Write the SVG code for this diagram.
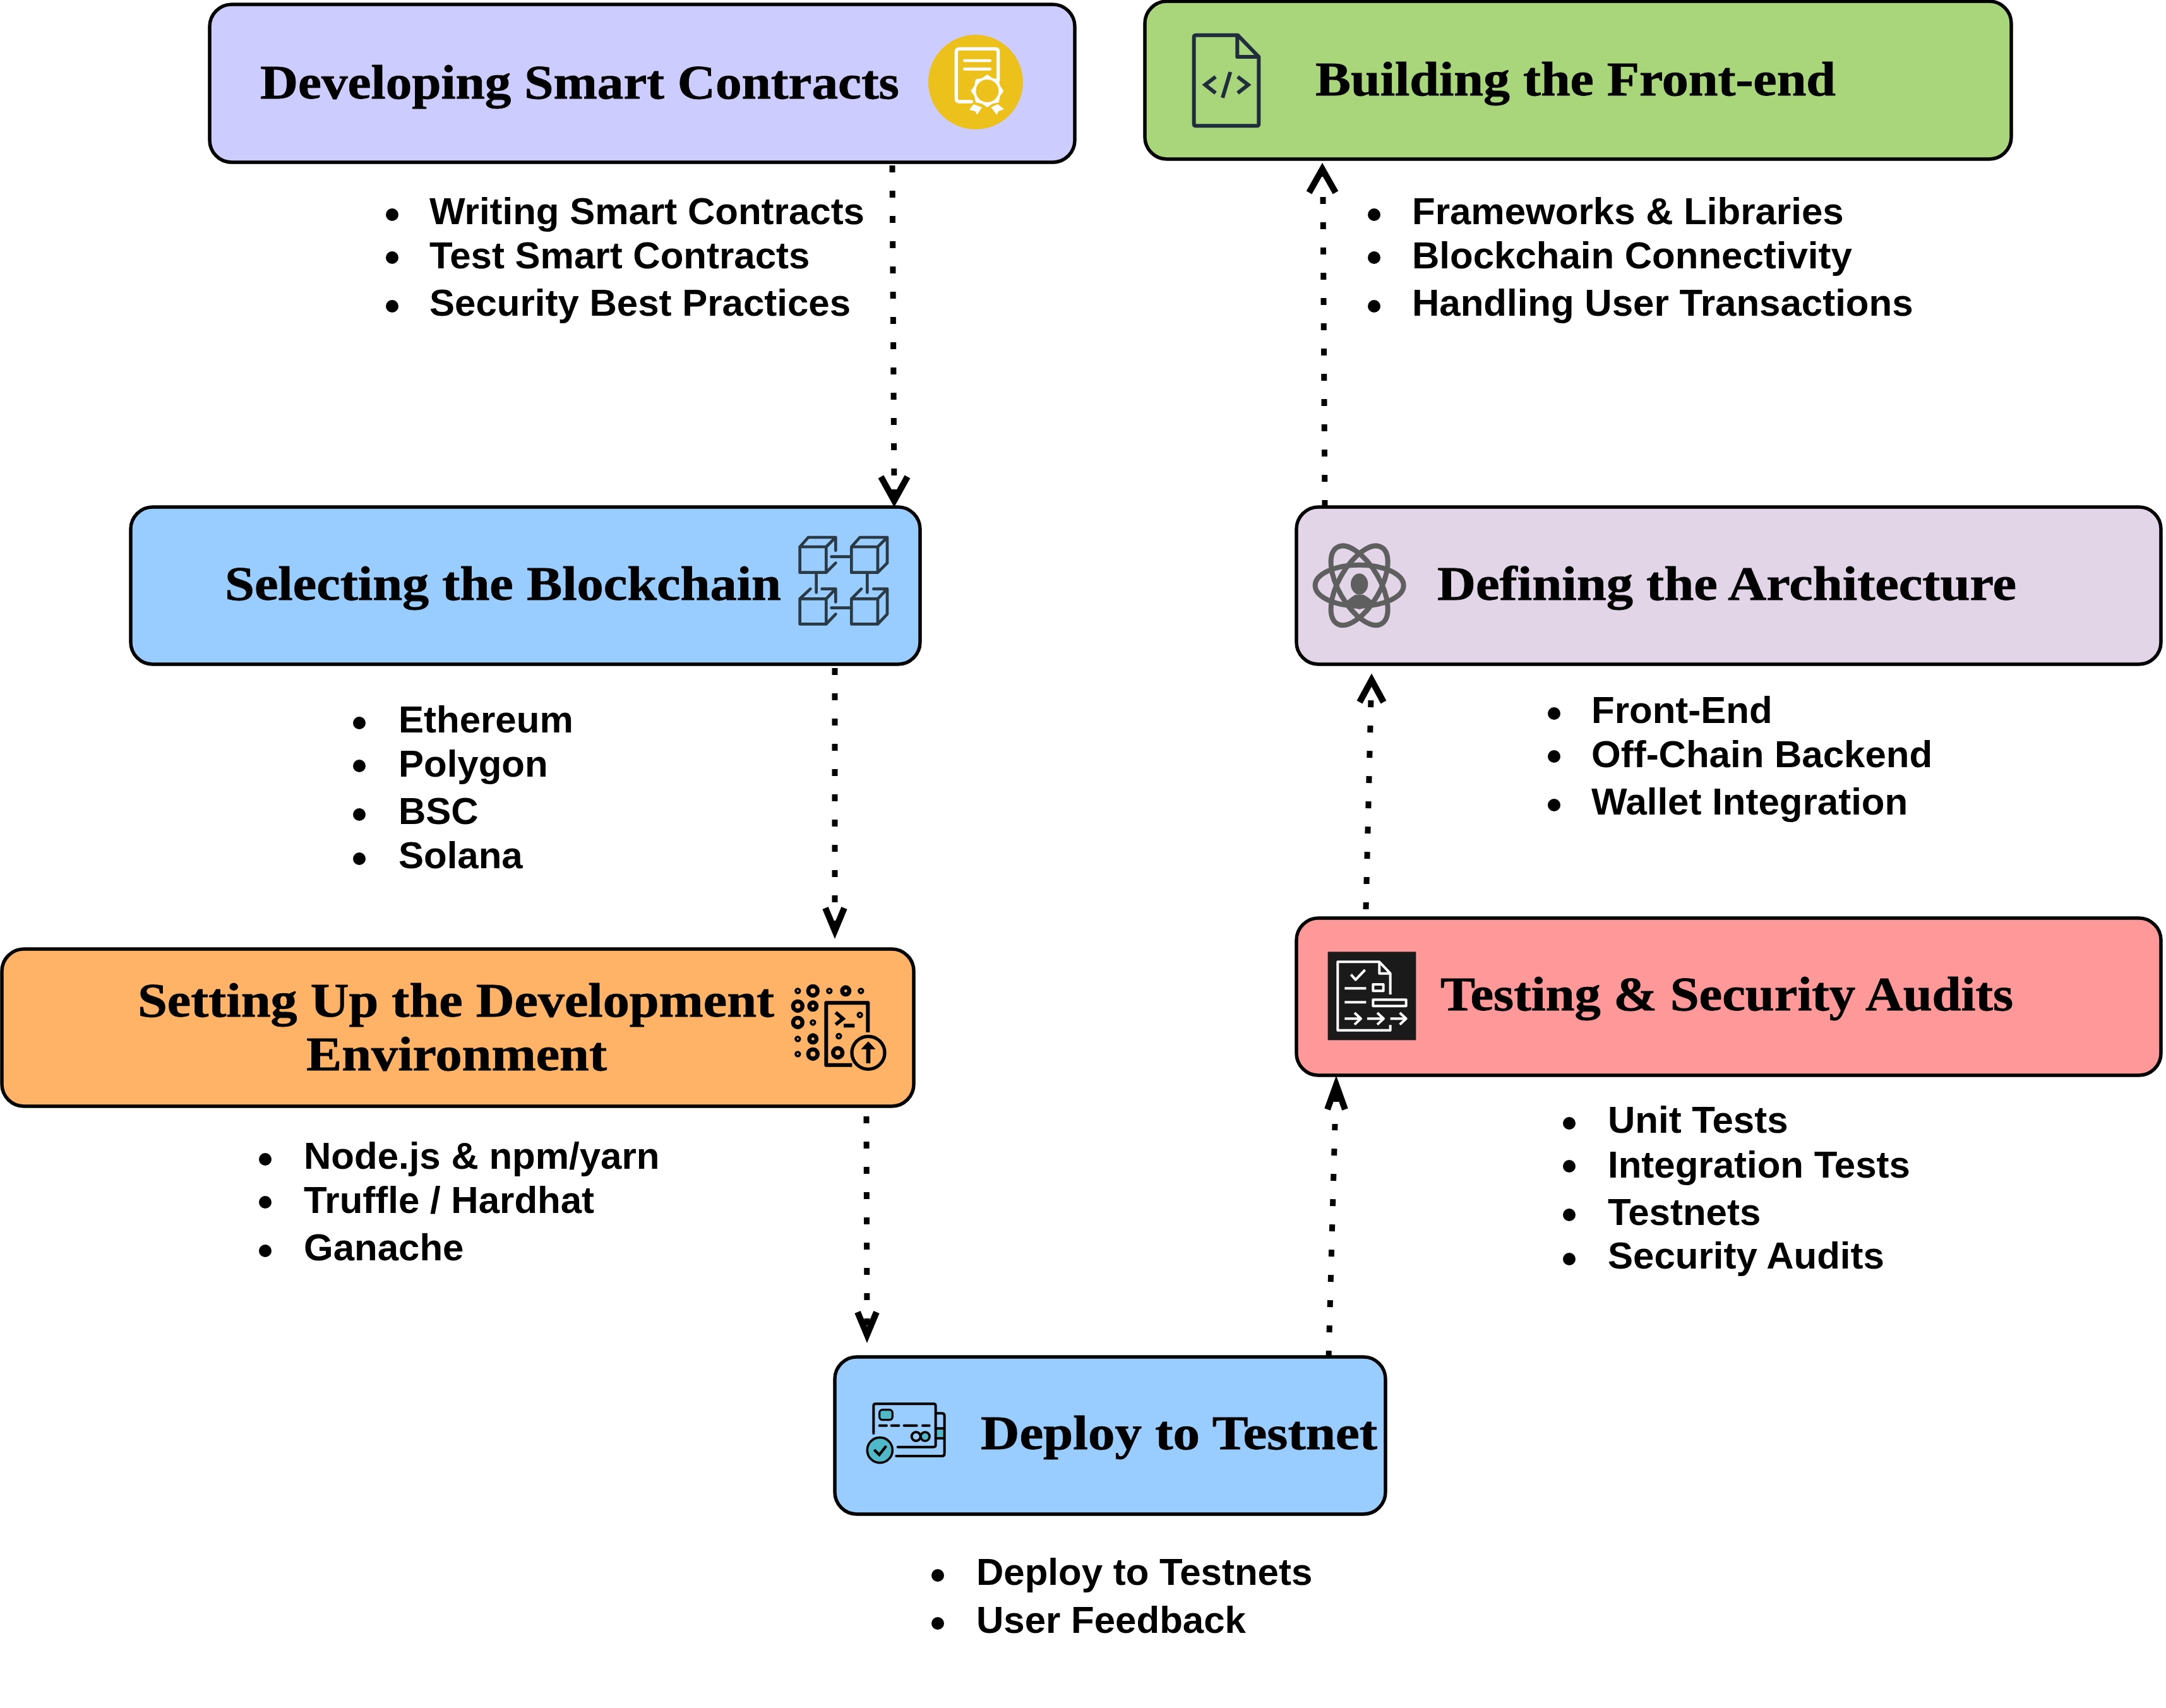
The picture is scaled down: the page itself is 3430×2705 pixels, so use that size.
<svg xmlns="http://www.w3.org/2000/svg" width="3430" height="2705" viewBox="0 0 3430 2705">
<style>
.box{stroke:#000;stroke-width:5.500}
.t{font-family:"Liberation Serif","DejaVu Serif",serif;font-weight:700;font-size:76px;fill:#000;stroke:#000;stroke-width:.8}
.l{font-family:"Liberation Sans",Arial,sans-serif;font-weight:700;font-size:60px;fill:#000}
.dash{fill:none;stroke:#000;stroke-width:9;stroke-dasharray:11 29}
.head{fill:none;stroke:#000;stroke-width:10;stroke-miterlimit:8}
.shaft{fill:none;stroke:#000;stroke-width:9}
.ic{fill:none;stroke-linecap:round;stroke-linejoin:round}
</style>
<rect width="3430" height="2705" fill="#fff"/>
<g id="connectors">
<path class="dash" d="M1413 262L1416 780"/><path class="shaft" d="M1416 775V795"/><path class="head" d="M1395 755L1416 793L1437 755"/>
<path class="dash" d="M1322 1058L1322 1465"/><path class="shaft" d="M1322 1463V1476"/><path class="head" d="M1307 1438L1322 1474L1337 1438"/>
<path class="dash" d="M1372 1768L1373 2105"/><path class="shaft" d="M1373 2103V2116"/><path class="head" d="M1358 2078L1373 2114L1388 2078"/>
<path class="dash" d="M2104 2150L2114 1780"/><path class="shaft" d="M2116 1720V1745"/><path class="head" d="M2102 1757L2116 1718L2130 1757"/>
<path class="dash" d="M2163 1440L2171 1107"/><path class="head" d="M2153 1112L2172 1077L2191 1112"/>
<path class="dash" d="M2098 803L2095 310"/><path class="shaft" d="M2094 270V280"/><path class="head" d="M2073 305L2094 268L2115 305"/>
</g>
<g id="node-contracts">
<rect class="box" x="332" y="7" width="1370" height="250" rx="35" fill="#CCCCFF"/>
<text class="t" x="412" y="156" textLength="1012" lengthAdjust="spacingAndGlyphs">Developing Smart Contracts</text>
<g transform="translate(1470 50) scale(.3333)">
<circle cx="225" cy="240" r="225" fill="#EDC11C"/>
<path class="ic" stroke="#fff" stroke-width="16" d="M332 230V95Q332 82 318 82H148Q133 82 133 97V318Q133 333 148 333H205"/>
<path class="ic" stroke="#fff" stroke-width="14" d="M172 138H293M172 178H293"/>
<path fill="#fff" d="M215 345L195 372L222 378L232 395L255 360ZM330 345L360 368L335 378L325 395L298 360Z"/>
<polygon fill="#fff" points="280,204 305,221 335,227 341,257 358,282 341,307 335,337 305,343 280,360 255,343 225,337 219,307 202,282 219,257 225,227 255,221"/>
<circle cx="280" cy="282" r="54" fill="#EDC11C"/>
</g>
</g>
<g id="node-frontend">
<rect class="box" x="1813" y="2" width="1372" height="250" rx="35" fill="#A9D67A"/>
<text class="t" x="2083" y="151" textLength="824" lengthAdjust="spacingAndGlyphs">Building the Front-end</text>
<g transform="translate(1870 40) scale(.3333)" stroke="#1F2D3D">
<path class="ic" stroke-width="18" d="M270 47H72Q62 47 62 57V468Q62 478 72 478H360Q370 478 370 468V150ZM268 47V150H370"/>
<path fill="none" stroke-width="18" d="M165 245L115 283L165 322M235 222L198 345M270 245L320 283L270 322"/>
</g>
</g>
<g id="node-blockchain">
<rect class="box" x="207" y="803" width="1250" height="249" rx="35" fill="#99CCFF"/>
<text class="t" x="356" y="950" textLength="881" lengthAdjust="spacingAndGlyphs">Selecting the Blockchain</text>
<g transform="translate(1220 780) scale(.3333)" class="ic" stroke="#2A3A44" stroke-width="14">
<path d="M140 258H265V380H140ZM140 258L180 213H310L265 258M310 213V275M310 335L265 380"/>
<path d="M385 258H510V380H385ZM385 258L425 213H555L510 258M555 213V335L510 380M290 305H385"/>
<path d="M218 385V475M460 385V475"/>
<path d="M140 505H265V625H140ZM140 505L190 458M245 458H310L265 505M310 458V520M310 578L265 625"/>
<path d="M385 505H510V625H385ZM385 505L432 458M490 458H555L510 505M555 458V578L510 625M290 548H385"/>
</g>
</g>
<g id="node-architecture">
<rect class="box" x="2053" y="803" width="1369" height="249" rx="35" fill="#E1D5E7"/>
<text class="t" x="2276" y="950" textLength="917" lengthAdjust="spacingAndGlyphs">Defining the Architecture</text>
<g transform="translate(2050 800) scale(.3333)">
<g fill="none" stroke="#5F5F5F" stroke-width="24">
<ellipse cx="308" cy="382" rx="210" ry="98"/>
<ellipse cx="308" cy="382" rx="210" ry="98" transform="rotate(60 308 382)"/>
<ellipse cx="308" cy="382" rx="210" ry="98" transform="rotate(-60 308 382)"/>
</g>
<ellipse cx="308" cy="375" rx="41" ry="50" fill="#5F5F5F"/>
<path fill="#5F5F5F" d="M240 462Q275 432 290 425H326Q345 432 378 462L360 480L308 495L255 480Z"/>
</g>
</g>
<g id="node-environment">
<rect class="box" x="3" y="1503" width="1444" height="249" rx="35" fill="#FFB366"/>
<text class="t" x="218" y="1610" textLength="1008" lengthAdjust="spacingAndGlyphs">Setting Up the Development</text>
<text class="t" x="485" y="1695" textLength="476" lengthAdjust="spacingAndGlyphs">Environment</text>
<g transform="translate(1230 1530) scale(.3333)">
<g fill="none" stroke="#000">
<g stroke-width="11"><circle cx="100" cy="118" r="10"/><circle cx="250" cy="118" r="10"/><circle cx="400" cy="118" r="10"/><circle cx="172" cy="268" r="10"/><circle cx="100" cy="346" r="10"/><circle cx="100" cy="418" r="10"/><circle cx="395" cy="232" r="10"/><circle cx="295" cy="333" r="10"/></g>
<g stroke-width="20"><circle cx="172" cy="118" r="22"/><circle cx="100" cy="190" r="22"/><circle cx="100" cy="268" r="22"/><circle cx="172" cy="418" r="22"/><circle cx="290" cy="412" r="22"/><circle cx="328" cy="118" r="17"/><circle cx="172" cy="190" r="17"/><circle cx="172" cy="346" r="17"/></g>
<path stroke-width="18" stroke-linejoin="round" d="M358 470H235V175H433V315"/>
<path stroke-width="17" d="M280 220L315 250L280 278"/>
<path stroke-width="18" d="M318 283H370"/>
<circle cx="435" cy="412" r="78" stroke-width="16"/>
<path stroke-width="20" d="M435 462V380"/>
</g>
<polygon points="400,395 435,358 470,395"/>
</g>
</g>
<g id="node-testing">
<rect class="box" x="2053" y="1454" width="1369" height="249" rx="35" fill="#FF9999"/>
<text class="t" x="2281" y="1600" textLength="907" lengthAdjust="spacingAndGlyphs">Testing &amp; Security Audits</text>
<g transform="translate(2080 1490) scale(.3333)">
<rect x="68" y="52" width="419" height="420" fill="#1A1A1A"/>
<g fill="none" stroke="#fff" stroke-width="12" stroke-linejoin="round">
<path d="M365 255V155L313 100H115V425H365V400M313 100V155H365"/>
<path d="M178 160L200 185L245 138M148 226H250M148 292H250"/>
<rect x="283" y="207" width="49" height="31"/><rect x="283" y="280" width="157" height="30"/>
<path d="M148 370H225M195 342L225 370L195 398M255 370H333M303 342L333 370L303 398M365 370H440M410 342L440 370L410 398"/>
</g>
</g>
</g>
<g id="node-deploy">
<rect class="box" x="1322" y="2149" width="872" height="249" rx="35" fill="#99CCFF"/>
<text class="t" x="1553" y="2295" textLength="628" lengthAdjust="spacingAndGlyphs">Deploy to Testnet</text>
<g transform="translate(1360 2200) scale(.3333)">
<rect x="370" y="195" width="32" height="30" fill="#4FB8C9"/>
<g fill="none" stroke="#000" stroke-width="12" stroke-linecap="round">
<path d="M70 210V80Q70 70 80 70H355Q365 70 365 80V265Q365 275 355 275H185"/>
<path d="M372 115H395Q407 115 407 127V305Q407 318 395 318H178"/>
<path d="M370 187H405M370 233H405"/>
<path d="M98 173H132M155 173H190M215 173H275M303 173H335"/>
<circle cx="272" cy="225" r="21"/>
</g>
<rect x="98" y="98" width="62" height="48" rx="15" fill="#4FB8C9" stroke="#000" stroke-width="10"/>
<circle cx="315" cy="225" r="21" fill="#4FB8C9" stroke="#000" stroke-width="11"/>
<circle cx="100" cy="290" r="60" fill="#4FB8C9" stroke="#000" stroke-width="11"/>
<path fill="none" stroke="#000" stroke-width="13" d="M73 288L97 312L130 270"/>
</g>
</g>
<g id="lists">
<g id="list-contracts"><circle cx="621" cy="340" r="10"/><circle cx="621" cy="408" r="10"/><circle cx="621" cy="485" r="10"/>
<text class="l" x="680" y="355">Writing Smart Contracts</text><text class="l" x="680" y="425">Test Smart Contracts</text><text class="l" x="680" y="500">Security Best Practices</text></g>
<g id="list-frontend"><circle cx="2176" cy="340" r="10"/><circle cx="2176" cy="408" r="10"/><circle cx="2176" cy="485" r="10"/>
<text class="l" x="2236" y="355">Frameworks &amp; Libraries</text><text class="l" x="2236" y="425">Blockchain Connectivity</text><text class="l" x="2236" y="500">Handling User Transactions</text></g>
<g id="list-blockchain"><circle cx="569" cy="1145" r="10"/><circle cx="569" cy="1213" r="10"/><circle cx="569" cy="1290" r="10"/><circle cx="569" cy="1360" r="10"/>
<text class="l" x="631" y="1160">Ethereum</text><text class="l" x="631" y="1230">Polygon</text><text class="l" x="631" y="1305">BSC</text><text class="l" x="631" y="1375">Solana</text></g>
<g id="list-architecture"><circle cx="2461" cy="1130" r="10"/><circle cx="2461" cy="1198" r="10"/><circle cx="2461" cy="1275" r="10"/>
<text class="l" x="2520" y="1145">Front-End</text><text class="l" x="2520" y="1215">Off-Chain Backend</text><text class="l" x="2520" y="1290">Wallet Integration</text></g>
<g id="list-environment"><circle cx="420" cy="1836" r="10"/><circle cx="420" cy="1904" r="10"/><circle cx="420" cy="1981" r="10"/>
<text class="l" x="481" y="1851">Node.js &amp; npm/yarn</text><text class="l" x="481" y="1921">Truffle / Hardhat</text><text class="l" x="481" y="1996">Ganache</text></g>
<g id="list-testing"><circle cx="2485" cy="1779" r="10"/><circle cx="2485" cy="1847" r="10"/><circle cx="2485" cy="1924" r="10"/><circle cx="2485" cy="1994" r="10"/>
<text class="l" x="2546" y="1794">Unit Tests</text><text class="l" x="2546" y="1865">Integration Tests</text><text class="l" x="2546" y="1940">Testnets</text><text class="l" x="2546" y="2009">Security Audits</text></g>
<g id="list-deploy"><circle cx="1485" cy="2495" r="10"/><circle cx="1485" cy="2571" r="10"/>
<text class="l" x="1546" y="2510">Deploy to Testnets</text><text class="l" x="1546" y="2586">User Feedback</text></g>
</g>
</svg>
